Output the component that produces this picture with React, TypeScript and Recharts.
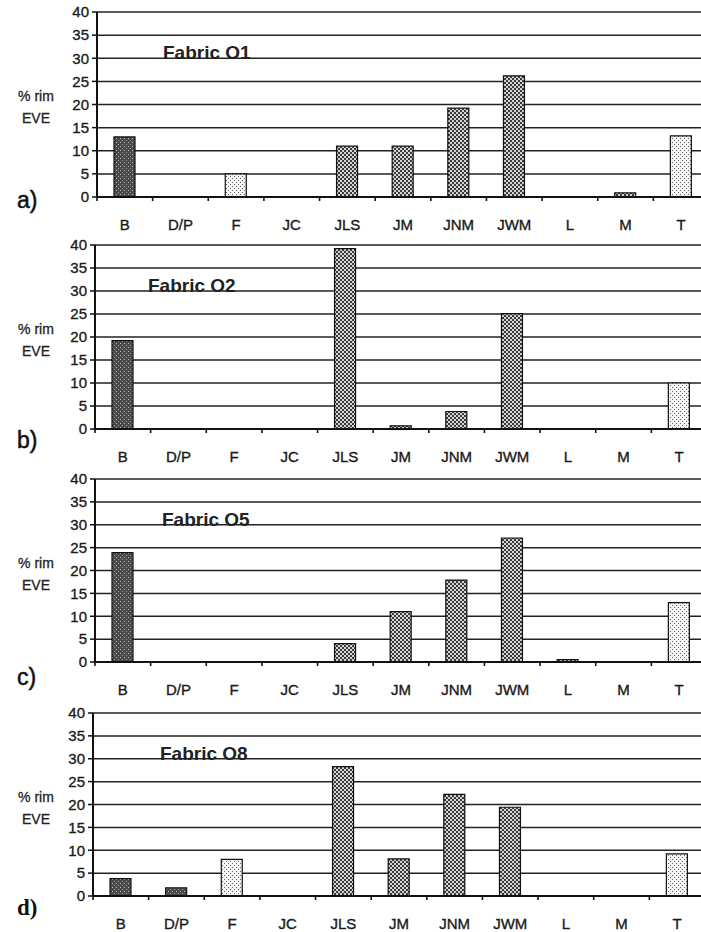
import React from "react";
import { BarChart, Bar, XAxis, YAxis, CartesianGrid, Cell } from "recharts";

const CATEGORIES = ["B", "D/P", "F", "JC", "JLS", "JM", "JNM", "JWM", "L", "M", "T"];
const FABRIC_O1 = [13, 0, 5, 0, 11, 11, 19.2, 26.2, 0, 0.9, 13.2];
const FABRIC_O2 = [19.2, 0, 0, 0, 39.2, 0.7, 3.8, 25.1, 0, 0, 10];
const FABRIC_O5 = [23.9, 0, 0, 0, 4, 11, 17.9, 27.1, 0.5, 0, 13];
const FABRIC_O8 = [3.8, 1.8, 8, 0, 28.3, 8.1, 22.2, 19.4, 0, 0, 9.2];
const Y_TICKS = [0, 5, 10, 15, 20, 25, 30, 35, 40];
const TITLES = ["Fabric O1", "Fabric O2", "Fabric O5", "Fabric O8"];
const LETTERS = ["a)", "b)", "c)", "d)"];

// bar texture per category (dark / medium / light stipple)
const FILLS = [
  "url(#dark)", "url(#dark)", "url(#light)", "url(#mid)", "url(#mid)", "url(#mid)",
  "url(#mid)", "url(#mid)", "url(#mid)", "url(#mid)", "url(#light)",
];

const SERIES = [FABRIC_O1, FABRIC_O2, FABRIC_O5, FABRIC_O8];

// layout of each panel: y of the 40 line, x of the y axis, plot height
const PANELS = [
  { top: 12, left: 97, h: 185, letterY: 200, titleX: 163 },
  { top: 245, left: 95, h: 184, letterY: 440, titleX: 148 },
  { top: 479, left: 95, h: 183, letterY: 677, titleX: 162 },
  { top: 713, left: 93, h: 183, letterY: 908, titleX: 160 },
];

const PLOT_W = 612;
const BAND = PLOT_W / CATEGORIES.length;
const FONT = "'Liberation Sans', Arial, sans-serif";

function CatTick(props: any) {
  const { x, y, payload } = props;
  return (
    <g>
      <line x1={x - BAND / 2} x2={x - BAND / 2} y1={y} y2={y + 4} stroke="#111" strokeWidth={1.6} />
      <text
        x={x}
        y={y + 27}
        textAnchor="middle"
        dominantBaseline="central"
        fontSize={15}
        fontFamily={FONT}
        fill="#1a1a1a"
        stroke="#1a1a1a"
        strokeWidth={0.35}
      >
        {payload.value}
      </text>
    </g>
  );
}

function Panel({ idx }: { idx: number }) {
  const p = PANELS[idx];
  const data = CATEGORIES.map((c, i) => ({ cat: c, v: SERIES[idx][i] }));
  const mTop = 10;
  return (
    <>
      <div style={{ position: "absolute", left: 0, top: p.top - mTop }}>
        <BarChart
          width={p.left + PLOT_W + 5}
          height={mTop + p.h + 40}
          data={data}
          margin={{ top: mTop, right: 5, left: 0, bottom: 0 }}
          barSize={21}
        >
          <CartesianGrid vertical={false} stroke="#222" strokeWidth={1.5} />
          <XAxis
            dataKey="cat"
            height={40}
            interval={0}
            tickLine={false}
            tickSize={0}
            tickMargin={0}
            axisLine={{ stroke: "#111", strokeWidth: 2 }}
            tick={<CatTick />}
          />
          <YAxis
            width={p.left}
            domain={[0, 40]}
            ticks={Y_TICKS}
            interval={0}
            tickSize={5}
            tickMargin={3}
            axisLine={{ stroke: "#111", strokeWidth: 2 }}
            tickLine={{ stroke: "#111", strokeWidth: 1.5 }}
            tick={{ fontSize: 15, fontFamily: FONT, fill: "#1a1a1a", stroke: "#1a1a1a", strokeWidth: 0.35 }}
          />
          <Bar dataKey="v" stroke="#111" strokeWidth={1.2} isAnimationActive={false}>
            {data.map((_, i) => (
              <Cell key={i} fill={FILLS[i]} />
            ))}
          </Bar>
        </BarChart>
      </div>
      <div
        style={{
          position: "absolute",
          left: p.titleX,
          top: p.top + 41 - 13,
          fontFamily: FONT,
          fontWeight: 700,
          fontSize: 19,
          color: "#222",
          lineHeight: "26px",
          whiteSpace: "nowrap",
        }}
      >
        {TITLES[idx]}
      </div>
      <div
        style={{
          position: "absolute",
          left: 8,
          width: 56,
          top: p.top + 73,
          fontFamily: FONT,
          fontSize: 14,
          color: "#222",
          lineHeight: "22px",
          textAlign: "center",
          WebkitTextStroke: "0.3px #222",
        }}
      >
        % rim
        <br />
        EVE
      </div>
      <div
        style={{
          position: "absolute",
          left: 17,
          top: p.letterY - 15,
          fontFamily: idx === 3 ? "'Liberation Serif', serif" : FONT,
          fontWeight: idx === 3 ? 700 : 400,
          fontSize: 23,
          lineHeight: "30px",
          color: "#111",
          WebkitTextStroke: idx === 3 ? "0" : "0.5px #111",
        }}
      >
        {LETTERS[idx]}
      </div>
    </>
  );
}

export default function App() {
  return (
    <div style={{ position: "absolute", left: 0, top: 0, width: 701, height: 932, overflow: "hidden", background: "#fff" }}>
      <svg width={0} height={0} style={{ position: "absolute" }}>
        <defs>
          <pattern id="dark" width={4} height={4} patternUnits="userSpaceOnUse">
            <rect width={4} height={4} fill="#4a4a4a" />
            <rect x={0} y={0} width={1} height={1} fill="#bbb" />
            <rect x={2} y={2} width={1} height={1} fill="#999" />
          </pattern>
          <pattern id="mid" width={4} height={4} patternUnits="userSpaceOnUse">
            <rect width={4} height={4} fill="#d4d4d4" />
            <rect x={0} y={0} width={2} height={2} fill="#3a3a3a" />
            <rect x={2} y={2} width={2} height={2} fill="#3a3a3a" />
          </pattern>
          <pattern id="light" width={4} height={4} patternUnits="userSpaceOnUse">
            <rect width={4} height={4} fill="#f4f4f4" />
            <rect x={0} y={0} width={1} height={1} fill="#666" />
            <rect x={2} y={2} width={1} height={1} fill="#666" />
          </pattern>
        </defs>
      </svg>
      {PANELS.map((_, i) => (
        <Panel key={i} idx={i} />
      ))}
    </div>
  );
}
